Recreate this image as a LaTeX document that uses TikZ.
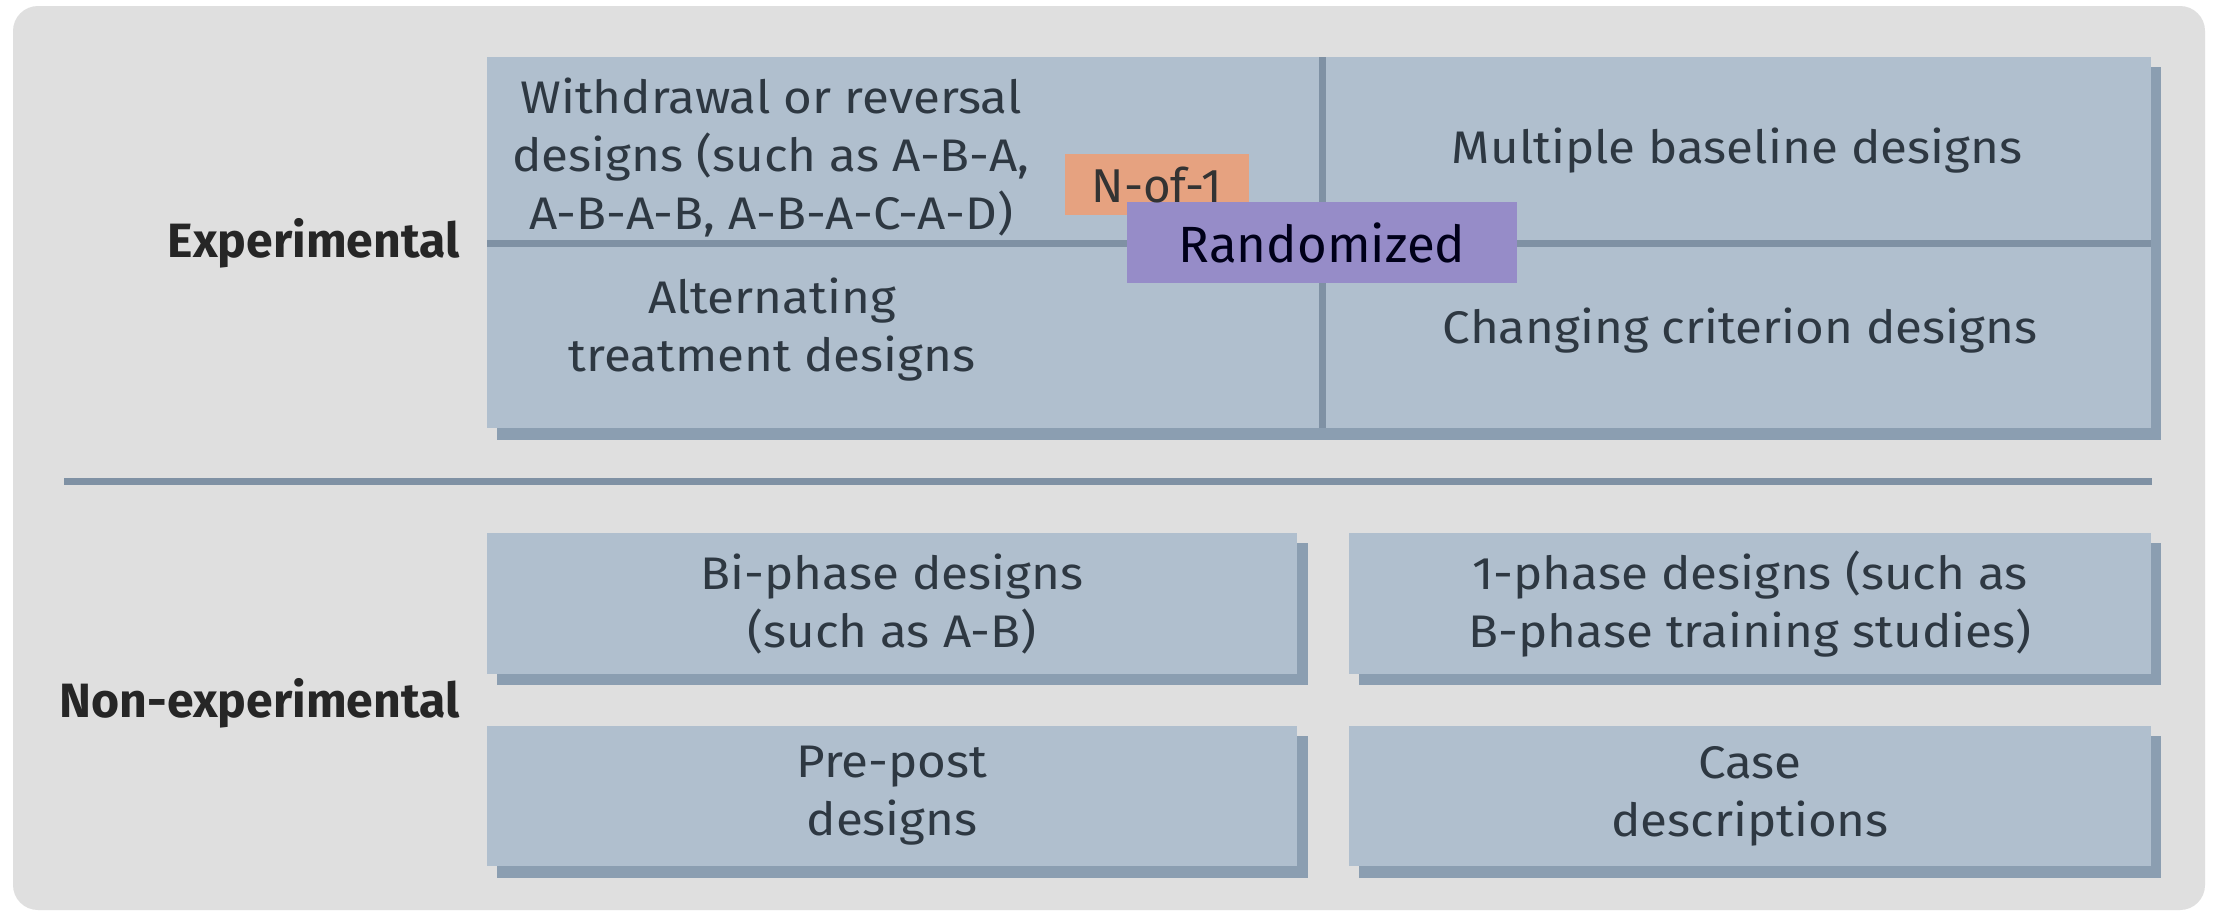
\documentclass[tikz,border=0pt]{standalone}
\usepackage{fontspec}
\setmainfont{Fira Sans}
\newfontfamily\cellfont{Fira Sans}[FakeStretch=1.08]
\usepackage{xcolor}
\usepackage{tikz}

\definecolor{bggray}{RGB}{223,223,223}
\definecolor{cellblue}{RGB}{176,191,206}
\definecolor{shadeblue}{RGB}{139,158,177}
\definecolor{divblue}{RGB}{127,145,164}
\definecolor{nofone}{RGB}{230,162,128}
\definecolor{randpurple}{RGB}{150,140,200}
\definecolor{inkdark}{RGB}{46,56,66}

\begin{document}
\begin{tikzpicture}[x=0.1mm, y=-0.1mm,
    label/.style={align=center, text=inkdark, inner sep=0pt, font=\cellfont\fontsize{13}{16.5}\selectfont},
    group/.style={anchor=base east, inner sep=0pt, text=black!85, font=\bfseries\fontsize{13.7}{16}\selectfont},
    divline/.style={divblue, line width=0.7mm}]
            % Frame
            \useasboundingbox (0,0) rectangle (2216,914);
            \fill[white] (0,0) rectangle (2216,914);
            \fill[bggray, rounded corners=2.5mm] (13,6) rectangle (2205,910);

            % Experimental block
            \fill[shadeblue] (497,67) rectangle (2161,440);
            \fill[cellblue] (487,57) rectangle (2151,428);
            \draw[divline] (1322,57) -- (1322,428);
            \draw[divline] (487,243) -- (2151,243);

            % Separator
            \draw[divline] (64,481) -- (2152,481);

            % Non-experimental boxes
            \fill[shadeblue] (497,543) rectangle (1308,685);
            \fill[cellblue] (487,533) rectangle (1297,674);
            \fill[shadeblue] (1359,543) rectangle (2161,685);
            \fill[cellblue] (1349,533) rectangle (2151,674);
            \fill[shadeblue] (497,736) rectangle (1308,878);
            \fill[cellblue] (487,726) rectangle (1297,866);
            \fill[shadeblue] (1359,736) rectangle (2161,878);
            \fill[cellblue] (1349,726) rectangle (2151,866);

            % Overlays
            \fill[nofone] (1065,154) rectangle (1249,215);
            \fill[randpurple] (1127,202) rectangle (1517,283);

            % Labels
            \node[group] (exp) at (460,257) {Experimental};
            \node[group] (nonexp) at (460,717) {Non-experimental};

            \node[label] (withdrawal) at (771,157) {Withdrawal or reversal\\designs (such as A-B-A,\\A-B-A-B, A-B-A-C-A-D)};
            \node[label] (alternating) at (772,330) {Alternating\\treatment designs};
            \node[label] (baseline) at (1737,151) {Multiple baseline designs};
            \node[label] (criterion) at (1740,331) {Changing criterion designs};
            \node[label] (biphase) at (892,604) {Bi-phase designs\\(such as A-B)};
            \node[label] (onephase) at (1750,604) {1-phase designs (such as\\B-phase training studies)};
            \node[label] (prepost) at (892,796) {Pre-post\\designs};
            \node[label] (casedesc) at (1750,796) {Case\\descriptions};

            \node[label, font=\fontsize{13.5}{16}\selectfont, text=black!80] (nofonetxt) at (1157,185) {N-of-1};
            \node[label, font=\fontsize{14.5}{16}\selectfont, text=black!90!blue] (randtxt) at (1322,243) {Randomized};

        \end{tikzpicture}
\end{document}
